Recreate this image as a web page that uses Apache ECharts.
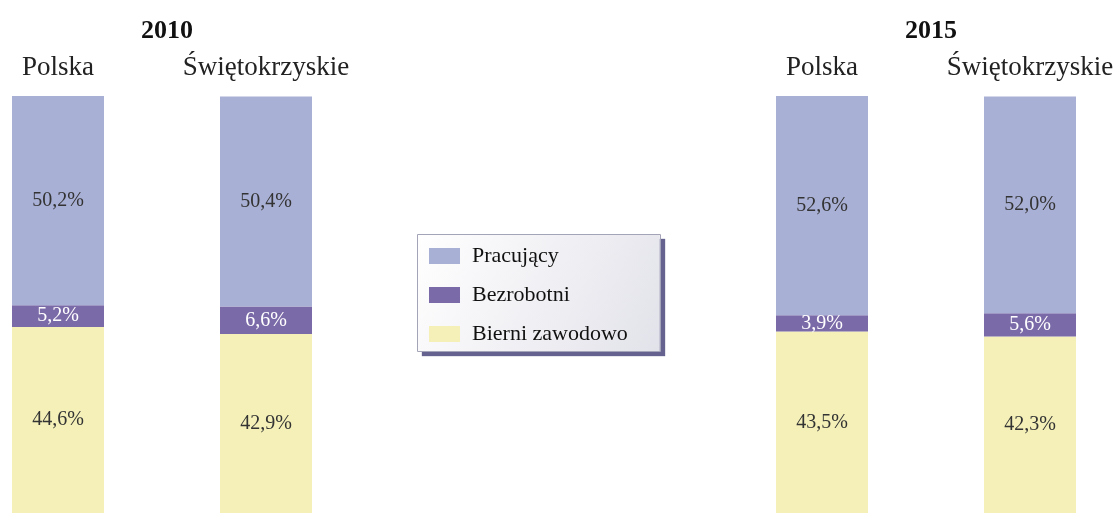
<!DOCTYPE html>
<html>
<head>
<meta charset="utf-8">
<script src="https://cdn.jsdelivr.net/npm/echarts@6/dist/echarts.min.js"></script>
<style>
  html, body { margin: 0; padding: 0; background: #fff; }
  #chart { width: 1119px; height: 515px; }
</style>
</head>
<body>
<div id="chart"></div>
<script>
var years = ["2010", "2015"];
var regions = ["Polska", "Świętokrzyskie"];
// values per year, order: Polska, Świętokrzyskie
var bierni2010 = [44.6, 42.9];
var bezrob2010 = [5.2, 6.6];
var pracuj2010 = [50.2, 50.4];
var bierni2015 = [43.5, 42.3];
var bezrob2015 = [3.9, 5.6];
var pracuj2015 = [52.6, 52.0];

var colors = {
    "Pracujący": "#a9b0d5",
    "Bezrobotni": "#7b6aa8",
    "Bierni zawodowo": "#f4f0b8"
};
var font = "'Liberation Serif', 'DejaVu Serif', serif";

function fmt(p) {
    return p.value.toFixed(1).replace(".", ",") + "%";
}

function mkSeries(name, data, idx) {
    return {
        name: name,
        type: "bar",
        stack: "s" + idx,
        xAxisIndex: idx,
        yAxisIndex: idx,
        barWidth: 92,
        data: data,
        itemStyle: { color: colors[name] },
        label: {
            show: true,
            position: "inside",
            formatter: fmt,
            fontFamily: font,
            fontSize: 20,
            color: name == "Bezrobotni" ? "#ffffff" : "#333333"
        }
    };
}

var titleStyle = { fontFamily: font, fontSize: 26, fontWeight: "bold", color: "#111" };

var option = {
    animation: false,
    title: [
        { text: years[0], left: 162, top: 13, textAlign: "center", textStyle: titleStyle },
        { text: years[1], left: 926, top: 13, textAlign: "center", textStyle: titleStyle }
    ],
    legend: {
        orient: "vertical",
        left: 417,
        top: 234,
        data: ["Pracujący", "Bezrobotni", "Bierni zawodowo"],
        itemWidth: 31,
        itemHeight: 16,
        itemGap: 17,
        icon: "rect",
        padding: [11, 32, 6, 12],
        textStyle: { fontFamily: font, fontSize: 22, color: "#111", padding: [0, 0, 0, 7] },
        backgroundColor: {
            type: "linear", x: 0, y: 0, x2: 1, y2: 1,
            colorStops: [{ offset: 0, color: "#ffffff" }, { offset: 1, color: "#e2e2ea" }]
        },
        borderWidth: 0,
        shadowColor: "#66628f",
        shadowBlur: 1,
        shadowOffsetX: 5,
        shadowOffsetY: 5
    },
    graphic: [{
        type: "rect",
        z: 100,
        shape: { x: 417.5, y: 234.5, width: 243, height: 117 },
        style: { fill: null, stroke: "#a4a4b8", lineWidth: 1 }
    }],
    grid: [
        { left: -46, width: 416, top: 96, bottom: 2, outerBoundsMode: "none", containLabel: false },
        { left: 718, width: 416, top: 96, bottom: 2, outerBoundsMode: "none", containLabel: false }
    ],
    xAxis: [0, 1].map(function (i) {
        return {
            type: "category",
            gridIndex: i,
            position: "top",
            data: regions,
            axisLine: { show: false },
            axisTick: { show: false },
            axisLabel: { fontFamily: font, fontSize: 27, color: "#222", margin: 15, interval: 0, hideOverlap: false }
        };
    }),
    yAxis: [0, 1].map(function (i) {
        return {
            type: "value",
            gridIndex: i,
            min: 0,
            max: 100,
            show: false
        };
    }),
    series: [
        mkSeries("Bierni zawodowo", bierni2010, 0),
        mkSeries("Bezrobotni", bezrob2010, 0),
        mkSeries("Pracujący", pracuj2010, 0),
        mkSeries("Bierni zawodowo", bierni2015, 1),
        mkSeries("Bezrobotni", bezrob2015, 1),
        mkSeries("Pracujący", pracuj2015, 1)
    ]
};

echarts.init(document.getElementById("chart")).setOption(option);
</script>
</body>
</html>
